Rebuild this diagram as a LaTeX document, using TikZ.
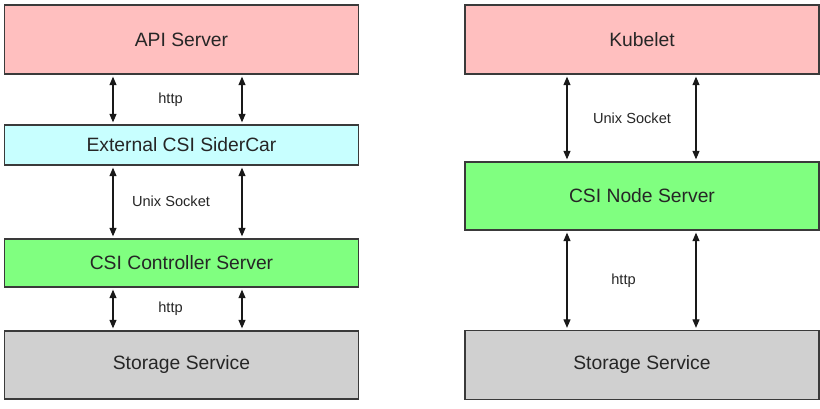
\documentclass[tikz,border=0pt]{standalone}
\usepackage{fontspec}
\setmainfont{Liberation Sans}
\usetikzlibrary{arrows.meta}
\definecolor{cpink}{HTML}{FFBFBF}
\definecolor{ccyan}{HTML}{C8FFFF}
\definecolor{cgreen}{HTML}{80FF80}
\definecolor{cgray}{HTML}{D0D0D0}
\definecolor{cedge}{HTML}{3A3A3A}
\begin{document}
\begin{tikzpicture}[x=1pt,y=-1pt,
  box/.style={draw=cedge,line width=1.3pt,minimum width=354pt,inner sep=0pt,
    font=\fontsize{19.3}{21}\selectfont,text=black!85},
  lbl/.style={font=\fontsize{14.6}{16}\selectfont,text=black!85,inner sep=0pt},
  arr/.style={line width=1.1pt,black!90,{Triangle[length=8.5pt,width=7pt]}-{Triangle[length=8.5pt,width=7pt]},shorten <=2pt,shorten >=2pt}]
\useasboundingbox[fill=white] (0,0) rectangle (820,408);
% left column
\node[box,fill=cpink,minimum height=69pt] (api) at (181.5,39.5) {API Server};
\node[box,fill=ccyan,minimum height=40pt] (side) at (181.5,145) {External CSI SiderCar};
\node[box,fill=cgreen,minimum height=48pt] (ctrl) at (181.5,263) {CSI Controller Server};
\node[box,fill=cgray,minimum height=68pt] (stl) at (181.5,365) {Storage Service};
\coordinate (L1) at (113,0);
\coordinate (L2) at (242,0);
\draw[arr] (api.south -| L1) -- (side.north -| L1);
\draw[arr] (api.south -| L2) -- (side.north -| L2);
\draw[arr] (side.south -| L1) -- (ctrl.north -| L1);
\draw[arr] (side.south -| L2) -- (ctrl.north -| L2);
\draw[arr] (ctrl.south -| L1) -- (stl.north -| L1);
\draw[arr] (ctrl.south -| L2) -- (stl.north -| L2);
\node[lbl] (h1) at (170.5,100) {http};
\node[lbl] (u1) at (171,201) {Unix Socket};
\node[lbl] (h2) at (170.5,309) {http};
% right column
\node[box,fill=cpink,minimum height=69pt] (kub) at (642,39.5) {Kubelet};
\node[box,fill=cgreen,minimum height=68pt] (nod) at (642,196) {CSI Node Server};
\node[box,fill=cgray,minimum height=69pt] (str) at (642,365) {Storage Service};
\coordinate (R1) at (567,0);
\coordinate (R2) at (696,0);
\draw[arr] (kub.south -| R1) -- (nod.north -| R1);
\draw[arr] (kub.south -| R2) -- (nod.north -| R2);
\draw[arr] (nod.south -| R1) -- (str.north -| R1);
\draw[arr] (nod.south -| R2) -- (str.north -| R2);
\node[lbl] (u2) at (632,118) {Unix Socket};
\node[lbl] (h3) at (623.5,281) {http};
\end{tikzpicture}
\end{document}
